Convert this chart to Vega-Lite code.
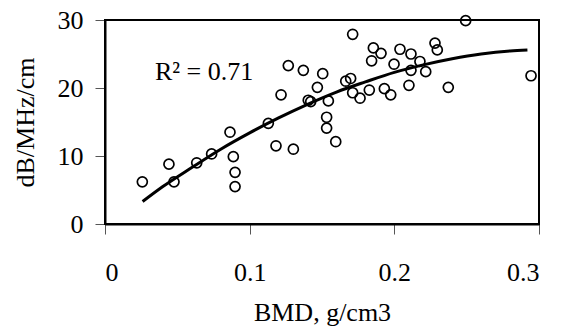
{
  "$schema": "https://vega.github.io/schema/vega-lite/v6.json",
  "width": 434,
  "height": 204,
  "autosize": {"type": "none"},
  "padding": {"left": 105, "top": 20, "right": 26, "bottom": 103},
  "background": "white",
  "config": {
    "font": "Liberation Serif, Times New Roman, serif",
    "view": {"stroke": "black", "strokeWidth": 2, "fill": "white"},
    "axis": {
      "grid": false,
      "domainColor": "black",
      "domainWidth": 2,
      "tickColor": "#555",
      "tickWidth": 1,
      "tickSize": 10,
      "labelFont": "Liberation Serif, Times New Roman, serif",
      "labelFontSize": 26,
      "labelColor": "black",
      "titleFont": "Liberation Serif, Times New Roman, serif",
      "titleFontSize": 26,
      "titleFontWeight": "normal",
      "titleColor": "black"
    }
  },
  "datasets": {
    "frame": [{"edge": "box"}],
    "points": [
      {"bmd": 0.0258, "att": 6.2},
      {"bmd": 0.0442, "att": 8.8},
      {"bmd": 0.0477, "att": 6.2},
      {"bmd": 0.0634, "att": 9.0},
      {"bmd": 0.0737, "att": 10.3},
      {"bmd": 0.0887, "att": 9.9},
      {"bmd": 0.0899, "att": 7.6},
      {"bmd": 0.0899, "att": 5.5},
      {"bmd": 0.0864, "att": 13.5},
      {"bmd": 0.1129, "att": 14.8},
      {"bmd": 0.1182, "att": 11.5},
      {"bmd": 0.1217, "att": 19.0},
      {"bmd": 0.1302, "att": 11.0},
      {"bmd": 0.1267, "att": 23.3},
      {"bmd": 0.1371, "att": 22.6},
      {"bmd": 0.1405, "att": 18.2},
      {"bmd": 0.1422, "att": 18.0},
      {"bmd": 0.1468, "att": 20.1},
      {"bmd": 0.1505, "att": 22.1},
      {"bmd": 0.1544, "att": 18.1},
      {"bmd": 0.1532, "att": 15.7},
      {"bmd": 0.1532, "att": 14.1},
      {"bmd": 0.1595, "att": 12.1},
      {"bmd": 0.1664, "att": 21.0},
      {"bmd": 0.1698, "att": 21.4},
      {"bmd": 0.1712, "att": 27.9},
      {"bmd": 0.1712, "att": 19.3},
      {"bmd": 0.1763, "att": 18.5},
      {"bmd": 0.1827, "att": 19.7},
      {"bmd": 0.1843, "att": 24.0},
      {"bmd": 0.1855, "att": 25.9},
      {"bmd": 0.1908, "att": 25.1},
      {"bmd": 0.1931, "att": 19.9},
      {"bmd": 0.1975, "att": 19.0},
      {"bmd": 0.1998, "att": 23.5},
      {"bmd": 0.2039, "att": 25.7},
      {"bmd": 0.2101, "att": 20.4},
      {"bmd": 0.2115, "att": 25.0},
      {"bmd": 0.2115, "att": 22.6},
      {"bmd": 0.2177, "att": 23.9},
      {"bmd": 0.2217, "att": 22.4},
      {"bmd": 0.2281, "att": 26.6},
      {"bmd": 0.2297, "att": 25.6},
      {"bmd": 0.2373, "att": 20.1},
      {"bmd": 0.2493, "att": 29.9},
      {"bmd": 0.2945, "att": 21.8}
    ],
    "curve": [
      {"bmd": 0.026, "fit": 3.3},
      {"bmd": 0.04, "fit": 5.5},
      {"bmd": 0.06, "fit": 8.3},
      {"bmd": 0.08, "fit": 11.0},
      {"bmd": 0.10, "fit": 13.4},
      {"bmd": 0.12, "fit": 15.6},
      {"bmd": 0.14, "fit": 17.6},
      {"bmd": 0.16, "fit": 19.4},
      {"bmd": 0.18, "fit": 20.9},
      {"bmd": 0.20, "fit": 22.3},
      {"bmd": 0.22, "fit": 23.4},
      {"bmd": 0.24, "fit": 24.3},
      {"bmd": 0.26, "fit": 25.0},
      {"bmd": 0.28, "fit": 25.45},
      {"bmd": 0.292, "fit": 25.6}
    ],
    "note": [
      {"bmd": 0.0345, "att": 21.2, "text": "R² = 0.71"}
    ]
  },
  "layer": [
    {
      "data": {"name": "frame"},
      "mark": {"type": "rect", "fill": "white", "fillOpacity": 0, "stroke": "black", "strokeWidth": 2},
      "encoding": {
        "x": {"datum": 0, "type": "quantitative"},
        "x2": {"datum": 0.3},
        "y": {"datum": 0, "type": "quantitative"},
        "y2": {"datum": 30}
      }
    },
    {
      "data": {"name": "points"},
      "mark": {"type": "point", "shape": "circle", "filled": false, "stroke": "black", "strokeWidth": 1.7, "size": 100, "opacity": 1},
      "encoding": {
        "x": {
          "field": "bmd", "type": "quantitative",
          "scale": {"domain": [0, 0.3], "nice": false, "zero": false},
          "axis": {
            "values": [0, 0.1, 0.2, 0.3],
            "format": "~g",
            "labelPadding": 25,
            "title": "BMD, g/cm3",
            "titleX": 217,
            "titleY": 96,
            "titleAnchor": "middle",
            "titleAlign": "center",
            "titleBaseline": "alphabetic"
          }
        },
        "y": {
          "field": "att", "type": "quantitative",
          "scale": {"domain": [0, 30], "nice": false},
          "axis": {
            "values": [0, 5, 10, 15, 20, 25, 30],
            "labelPadding": 12,
            "title": "dB/MHz/cm",
            "titleAngle": -90,
            "titleX": -71.5,
            "titleY": 102,
            "titleAlign": "center",
            "titleBaseline": "alphabetic"
          }
        }
      }
    },
    {
      "data": {"name": "curve"},
      "mark": {"type": "line", "color": "black", "strokeWidth": 3, "interpolate": "monotone"},
      "encoding": {
        "x": {"field": "bmd", "type": "quantitative"},
        "y": {"field": "fit", "type": "quantitative"}
      }
    },
    {
      "data": {"name": "note"},
      "mark": {"type": "text", "font": "Liberation Serif, Times New Roman, serif", "fontSize": 26, "align": "left", "baseline": "alphabetic", "color": "black"},
      "encoding": {
        "x": {"field": "bmd", "type": "quantitative"},
        "y": {"field": "att", "type": "quantitative"},
        "text": {"field": "text"}
      }
    }
  ]
}
